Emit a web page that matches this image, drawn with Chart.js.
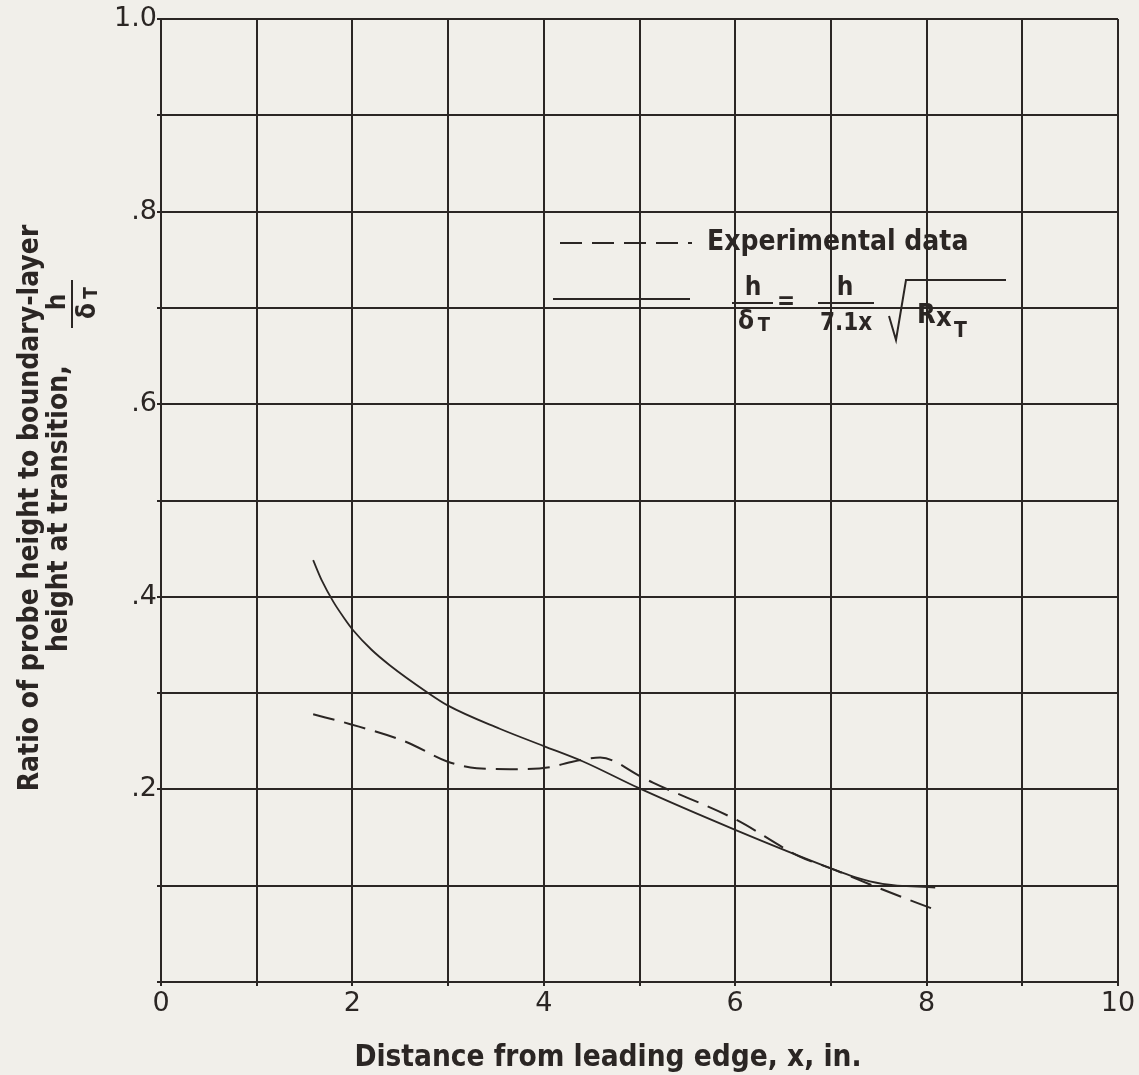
<!DOCTYPE html>
<html>
<head>
<meta charset="utf-8">
<script src="https://cdn.jsdelivr.net/npm/chart.js@4.4.1/dist/chart.umd.min.js"></script>
<style>
  html, body { margin: 0; padding: 0; background: #f1efea; }
  canvas { display: block; }
</style>
</head>
<body>
<canvas id="chart" width="1139" height="1075"></canvas>
<script>
const theoryX = [1.59, 1.68, 1.80, 1.92, 2.01, 2.20, 2.39, 2.78, 3.0, 3.54, 4.0, 4.41, 5.0, 6.0, 7.0, 7.25, 7.54, 8.09];
const theoryY = [0.438, 0.417, 0.395, 0.377, 0.365, 0.345, 0.329, 0.301, 0.287, 0.263, 0.245, 0.229, 0.201, 0.158, 0.118, 0.109, 0.102, 0.098];

const expX = [1.59, 1.97, 2.57, 2.99, 3.30, 3.72, 4.06, 4.31, 4.59, 5.03, 5.14, 6.0, 6.68, 7.0, 7.54, 8.09];
const expY = [0.278, 0.268, 0.249, 0.229, 0.222, 0.221, 0.223, 0.229, 0.233, 0.2125, 0.207, 0.169, 0.130, 0.118, 0.096, 0.075];

const xTicks = [0, 2, 4, 6, 8, 10];
const yTicks = [0.2, 0.4, 0.6, 0.8, 1.0];
const yTickLabels = ['.2', '.4', '.6', '.8', '1.0'];

const ink = '#2b2624';
const paper = '#f1efea';
const fontFam = "'DejaVu Sans Condensed', 'Liberation Sans Narrow', 'DejaVu Sans', sans-serif";
const tickFam = "'DejaVu Sans', sans-serif";

const toPoints = (xs, ys) => xs.map((x, i) => ({ x: x, y: ys[i] }));

// titles + legend drawn by hand, the figure has no boxed legend
const decorations = {
    id: 'decorations',
    afterDraw(chart) {
        const ctx = chart.ctx;
        ctx.save();
        ctx.fillStyle = ink;
        ctx.strokeStyle = ink;

        // x title
        ctx.font = `bold 29.5px ${fontFam}`;
        ctx.textAlign = 'center';
        ctx.textBaseline = 'middle';
        ctx.fillText('Distance from leading edge, x, in.', 608, 1058);

        // y title, two rotated lines
        ctx.font = `bold 28px ${fontFam}`;
        ctx.save();
        ctx.translate(31, 508);
        ctx.rotate(-Math.PI / 2);
        ctx.fillText('Ratio of probe height to boundary-layer', 0, 0);
        ctx.restore();

        ctx.save();
        ctx.rotate(-Math.PI / 2);
        // rotated frame: u = -pageY, v = pageX
        ctx.textAlign = 'left';
        ctx.fillText('height at transition,', -652, 60);
        ctx.textAlign = 'center';
        ctx.font = `bold 26px ${fontFam}`;
        ctx.fillText('h', -302, 58);
        ctx.lineWidth = 2;
        ctx.beginPath();
        ctx.moveTo(-328, 72);
        ctx.lineTo(-280, 72);
        ctx.stroke();
        ctx.fillText('\u03b4', -311, 88);
        ctx.font = `bold 19px ${fontFam}`;
        ctx.fillText('T', -293, 92);
        ctx.restore();

        // legend: dashed line
        ctx.lineWidth = 2;
        ctx.setLineDash([22, 10]);
        ctx.beginPath();
        ctx.moveTo(560, 243);
        ctx.lineTo(692, 243);
        ctx.stroke();
        ctx.setLineDash([]);
        ctx.font = `bold 28px ${fontFam}`;
        ctx.textAlign = 'left';
        ctx.fillText('Experimental data', 707, 243);

        // legend: solid line + formula
        ctx.beginPath();
        ctx.moveTo(553, 299);
        ctx.lineTo(690, 299);
        ctx.stroke();

        ctx.textAlign = 'center';
        ctx.font = `bold 26px ${fontFam}`;
        ctx.fillText('h', 753, 288);
        ctx.beginPath();
        ctx.moveTo(732, 303);
        ctx.lineTo(773, 303);
        ctx.stroke();
        ctx.fillText('\u03b4', 746, 322);
        ctx.font = `bold 20px ${fontFam}`;
        ctx.fillText('T', 764, 326);

        ctx.font = `bold 24px ${fontFam}`;
        ctx.fillText('=', 786, 303);

        ctx.font = `bold 26px ${fontFam}`;
        ctx.fillText('h', 845, 288);
        ctx.beginPath();
        ctx.moveTo(818, 303);
        ctx.lineTo(874, 303);
        ctx.stroke();
        ctx.font = `bold 24px ${fontFam}`;
        ctx.fillText('7.1x', 846, 324);

        // radical
        ctx.beginPath();
        ctx.moveTo(889, 316);
        ctx.lineTo(896, 340);
        ctx.lineTo(906, 280);
        ctx.lineTo(1006, 280);
        ctx.stroke();
        ctx.font = `bold 27px ${fontFam}`;
        ctx.textAlign = 'left';
        ctx.fillText('R', 917, 316);
        ctx.fillText('x', 936, 319);
        ctx.font = `bold 21px ${fontFam}`;
        ctx.fillText('T', 954, 332);

        ctx.restore();
    }
};

new Chart(document.getElementById('chart'), {
    type: 'scatter',
    data: {
        datasets: [
            {
                label: 'Experimental data',
                data: toPoints(expX, expY),
                showLine: true,
                borderColor: ink,
                borderWidth: 2,
                borderDash: [22, 10],
                pointRadius: 0,
                cubicInterpolationMode: 'monotone'
            },
            {
                label: 'h/\u03b4T = h/7.1x \u221aRxT',
                data: toPoints(theoryX, theoryY),
                showLine: true,
                borderColor: ink,
                borderWidth: 1.8,
                pointRadius: 0,
                cubicInterpolationMode: 'monotone'
            }
        ]
    },
    options: {
        responsive: false,
        animation: false,
        devicePixelRatio: 1,
        layout: { padding: { left: 0, top: 19, right: 21, bottom: 0 } },
        plugins: {
            legend: { display: false },
            tooltip: { enabled: false }
        },
        scales: {
            x: {
                type: 'linear',
                min: 0,
                max: 10,
                afterFit(scale) { scale.height = 93; },
                grid: { color: ink, lineWidth: 2, tickLength: 4 },
                border: { color: ink, width: 2 },
                ticks: {
                    stepSize: 1,
                    color: ink,
                    padding: 2,
                    maxRotation: 0,
                    autoSkip: false,
                    font: { family: tickFam, size: 27 },
                    callback: v => xTicks.includes(v) ? String(v) : ''
                }
            },
            y: {
                type: 'linear',
                min: 0,
                max: 1,
                afterFit(scale) { scale.width = 161; },
                grid: { color: ink, lineWidth: 2, tickLength: 4 },
                border: { color: ink, width: 2 },
                ticks: {
                    stepSize: 0.1,
                    color: ink,
                    padding: 0,
                    autoSkip: false,
                    font: { family: tickFam, size: 27 },
                    callback: v => {
                        const i = yTicks.findIndex(t => Math.abs(t - v) < 1e-6);
                        return i >= 0 ? yTickLabels[i] : '';
                    }
                }
            }
        }
    },
    plugins: [{
        id: 'paper',
        beforeDraw(chart) {
            const ctx = chart.ctx;
            ctx.save();
            ctx.fillStyle = paper;
            ctx.fillRect(0, 0, chart.width, chart.height);
            ctx.restore();
        }
    }, decorations]
});
</script>
</body>
</html>
